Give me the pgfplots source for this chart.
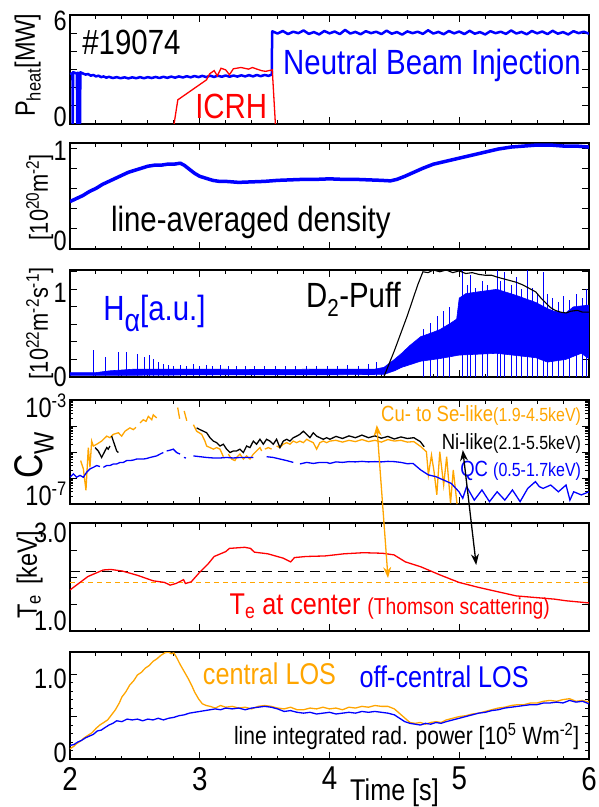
\documentclass[border=0pt]{standalone}
\usepackage{fontspec}
\setmainfont{Liberation Sans}[FakeStretch=0.84]
\usepackage{pgfplots}
\pgfplotsset{compat=1.18}
\usetikzlibrary{arrows.meta}
\definecolor{cwblue}{RGB}{0,0,255}
\definecolor{cworange}{RGB}{255,165,0}
\definecolor{cwred}{RGB}{255,0,0}
\newcommand{\fs}[1]{\fontsize{#1}{#1}\selectfont}

\pgfplotsset{panel/.style={
  scale only axis, width=519pt, anchor=north west,
  xmin=2, xmax=6, xtick={2,3,4,5,6}, minor x tick num=4,
  xticklabels={}, yticklabels={},
  tick align=inside, xtick pos=both, ytick pos=both,
  axis line style={line width=1.4pt},
  every tick/.style={black, line width=1pt},
  major tick length=7pt, minor tick length=3.5pt,
  clip mode=individual, unbounded coords=jump,
}}
\tikzset{tl/.style={inner sep=0pt, font=\fs{28}}}

\begin{document}
\begin{tikzpicture}
\useasboundingbox (-70pt,0pt) rectangle (528pt,-807pt);

% heating power
\begin{axis}[panel, at={(0pt,-15pt)}, height=109pt, ymin=0, ymax=6, ytick={0,1,2,3,4,5,6}]
\addplot[cwblue, line width=2.5pt, line join=round] coordinates {
 (2.000,2.75)(2.019,2.80)(2.021,0)(2.024,2.85)(2.053,2.78)(2.056,0)(2.059,2.82)(2.074,2.75)(2.077,0)(2.080,2.85)
 (2.10,2.78)(2.12,2.72)(2.14,2.75)(2.16,2.66)(2.18,2.70)(2.20,2.62)(2.22,2.66)(2.24,2.58)(2.26,2.62)(2.28,2.55)
 (2.30,2.60)(2.33,2.53)(2.36,2.58)(2.39,2.52)(2.42,2.57)(2.45,2.51)(2.48,2.57)(2.51,2.52)(2.54,2.58)(2.57,2.52)
 (2.60,2.58)(2.63,2.53)(2.66,2.59)(2.69,2.53)(2.72,2.60)(2.75,2.54)(2.78,2.61)(2.81,2.55)(2.84,2.62)(2.87,2.56)
 (2.90,2.63)(2.93,2.57)(2.96,2.64)(2.99,2.58)(3.02,2.65)(3.05,2.58)(3.08,2.66)(3.11,2.59)(3.14,2.66)(3.17,2.60)
 (3.20,2.67)(3.23,2.60)(3.26,2.67)(3.29,2.61)(3.32,2.68)(3.35,2.62)(3.38,2.69)(3.41,2.62)(3.44,2.70)(3.47,2.63)
 (3.50,2.70)(3.53,2.65)(3.555,2.72)(3.558,5.05)
 (3.56,5.10)(3.60,4.98)(3.64,5.12)(3.68,4.95)(3.72,5.08)(3.76,5.00)(3.80,5.15)(3.84,4.96)(3.88,5.06)(3.92,4.93)
 (3.96,5.12)(4.00,4.99)(4.04,5.09)(4.08,4.95)(4.12,5.18)(4.16,4.98)(4.20,5.07)(4.24,4.94)(4.28,5.11)(4.32,5.00)
 (4.36,5.08)(4.40,4.95)(4.44,5.14)(4.48,4.97)(4.52,5.06)(4.56,4.92)(4.60,5.10)(4.64,5.00)(4.68,5.08)(4.72,4.96)
 (4.76,5.16)(4.80,4.98)(4.84,5.07)(4.88,4.94)(4.92,5.12)(4.96,4.99)(5.00,5.09)(5.04,4.95)(5.08,5.13)(5.12,4.97)
 (5.16,5.06)(5.20,4.93)(5.24,5.11)(5.28,5.00)(5.32,5.08)(5.36,4.96)(5.40,5.15)(5.44,4.98)(5.48,5.07)(5.52,4.94)
 (5.56,5.12)(5.60,4.99)(5.64,5.09)(5.68,4.95)(5.72,5.13)(5.76,4.97)(5.80,5.06)(5.84,4.93)(5.88,5.11)(5.92,5.00)
 (5.96,5.08)(6.00,4.97)};
\addplot[cwred, line width=1.3pt] coordinates {
 (2.802,0)(2.831,1.33)(3.052,2.43)(3.076,2.76)(3.111,2.94)(3.135,2.65)(3.164,3.07)(3.200,2.98)(3.229,2.71)
 (3.259,3.04)(3.318,3.11)(3.376,3.02)(3.406,3.11)(3.441,3.02)(3.480,2.93)(3.509,2.90)(3.559,2.98)(3.583,0)};
\node[anchor=base west, inner sep=0pt] at (axis cs:2.094,3.80) {\fs{35}\#19074};
\node[anchor=base west, inner sep=0pt, text=cwblue] at (axis cs:3.642,2.70) {\fs{35}Neutral Beam Injection};
\node[anchor=base west, inner sep=0pt, text=cwred] at (axis cs:2.964,0.33) {\fs{35}ICRH};
\node[tl, anchor=north east] at ([xshift=-3pt,yshift=4pt]rel axis cs:0,1) {6};
\node[tl, anchor=south east] at ([xshift=-3pt,yshift=-3pt]rel axis cs:0,0) {0};
\node[rotate=90, anchor=base, inner sep=0pt] at ([xshift=-35pt]rel axis cs:0,0.54) {\fs{28}P\textsubscript{heat}[MW]};
\end{axis}

% density
\begin{axis}[panel, at={(0pt,-143pt)}, height=106pt, ymin=0, ymax=1.05, ytick={0,0.2,0.4,0.6,0.8,1}]
\addplot[cwblue, line width=3.5pt, line join=round] coordinates {
 (2.00,0.47)(2.05,0.50)(2.10,0.53)(2.15,0.57)(2.20,0.60)(2.25,0.64)(2.30,0.67)(2.35,0.70)(2.40,0.73)(2.45,0.76)
 (2.50,0.78)(2.55,0.80)(2.60,0.82)(2.65,0.83)(2.70,0.83)(2.75,0.84)(2.80,0.84)(2.85,0.85)(2.88,0.83)(2.92,0.79)
 (2.96,0.75)(3.00,0.72)(3.05,0.70)(3.10,0.68)(3.15,0.67)(3.20,0.67)(3.30,0.66)(3.40,0.665)(3.50,0.67)(3.60,0.68)
 (3.70,0.685)(3.80,0.69)(3.90,0.69)(4.00,0.695)(4.10,0.69)(4.20,0.69)(4.30,0.685)(4.40,0.68)(4.47,0.675)(4.52,0.69)
 (4.58,0.72)(4.65,0.76)(4.72,0.80)(4.80,0.84)(4.90,0.87)(5.00,0.90)(5.10,0.93)(5.20,0.96)(5.30,0.99)(5.40,1.01)
 (5.50,1.02)(5.60,1.03)(5.70,1.03)(5.80,1.02)(5.90,1.02)(6.00,1.01)};
\node[anchor=base west, inner sep=0pt] at (axis cs:2.315,0.17) {\fs{35}line-averaged density};
\node[tl, anchor=north east] at ([xshift=-3pt,yshift=2pt]rel axis cs:0,1) {1};
\node[tl, anchor=south east] at ([xshift=-3pt,yshift=-2pt]rel axis cs:0,0) {0};
\node[rotate=90, anchor=base, inner sep=0pt] at ([xshift=-22pt]rel axis cs:0,0.49) {\fs{26}[10\textsuperscript{20}m\textsuperscript{-2}]};
\end{axis}

% H-alpha and D2 puff
\begin{axis}[panel, at={(0pt,-270pt)}, height=107pt, ymin=0, ymax=1.22, ytick={0,0.2,0.4,0.6,0.8,1,1.2}]
\addplot[fill=cwblue, draw=cwblue, line width=0.6pt] coordinates {
 (2.00,0.05)(2.20,0.05)(2.30,0.07)(2.50,0.09)(3.00,0.09)(3.50,0.085)(4.00,0.09)(4.35,0.09)(4.42,0.11)(4.50,0.20)
 (4.556,0.27)(4.62,0.36)(4.703,0.46)(4.78,0.50)(4.85,0.54)(4.94,0.62)(4.98,0.66)(5.00,0.90)(5.05,0.95)(5.14,0.97)
 (5.29,1.00)(5.44,0.93)(5.59,0.85)(5.68,0.78)(5.73,0.75)(5.82,0.73)(5.88,0.80)(6.00,0.82)
 (6.00,0.21)(5.94,0.27)(5.82,0.20)(5.68,0.17)(5.59,0.22)(5.29,0.27)(5.00,0.25)(4.85,0.21)(4.703,0.18)(4.556,0.11)
 (4.50,0.07)(4.42,0.03)(4.00,0.025)(3.00,0.025)(2.50,0.02)(2.00,0.02)} -- cycle;
\addplot[cwblue, line width=0.6pt, ycomb] coordinates {
 (2.183,0.31)(2.271,0.23)(2.374,0.29)(2.433,0.28)(2.52,0.26)(2.575,0.23)(2.61,0.25)(2.64,0.21)(2.684,0.17)(2.72,0.15)
 (2.76,0.14)(2.80,0.13)(2.85,0.14)(2.90,0.13)(2.95,0.15)(3.00,0.13)(3.05,0.14)(3.10,0.13)(3.16,0.14)(3.22,0.13)
 (3.28,0.12)(3.35,0.13)(3.42,0.12)(3.50,0.13)(3.58,0.12)(3.66,0.13)(3.74,0.12)(3.82,0.13)(3.90,0.12)(3.98,0.13)
 (4.06,0.12)(4.14,0.14)(4.22,0.13)(4.30,0.15)(4.36,0.17)
 (4.72,0.55)(4.78,0.62)(4.83,0.70)(4.88,0.75)(4.92,0.80)(5.027,1.25)(5.06,1.05)(5.086,1.16)(5.12,1.02)(5.175,1.10)
 (5.22,1.05)(5.29,1.24)(5.32,1.10)(5.35,1.20)(5.40,1.05)(5.44,1.14)(5.48,1.00)(5.528,1.25)(5.56,1.02)(5.60,0.95)
 (5.646,1.20)(5.68,0.95)(5.72,0.90)(5.76,0.85)(5.80,0.92)(5.85,0.88)(5.90,0.95)(5.95,0.90)(5.98,1.00)};
\addplot[black, line width=1.1pt] coordinates {
 (2.00,0.005)(4.42,0.005)(4.50,0.30)(4.60,0.70)(4.68,1.05)(4.72,1.20)(4.76,1.19)(4.80,1.22)(4.85,1.20)(4.90,1.22)
 (4.95,1.19)(5.00,1.21)(5.05,1.18)(5.10,1.19)(5.15,1.17)(5.20,1.16)(5.25,1.16)(5.29,1.14)(5.34,1.12)(5.39,1.10)
 (5.44,1.08)(5.49,1.05)(5.54,1.01)(5.59,0.97)(5.63,0.90)(5.67,0.84)(5.705,0.79)(5.74,0.76)(5.78,0.74)(5.823,0.73)
 (5.86,0.75)(5.91,0.76)(5.95,0.74)(6.00,0.74)};
\node[anchor=base west, inner sep=0pt] at (axis cs:3.818,0.79) {\fs{35}D\textsubscript{2}-Puff};
\node[anchor=base west, inner sep=0pt, text=cwblue] at (axis cs:2.256,0.64) {\fs{35}H\raisebox{-0.3em}{\fs{32}α}[a.u.]};
\node[tl, anchor=east] at ([xshift=-3pt,yshift=-4pt]axis cs:2,1) {1};
\node[tl, anchor=east] at ([xshift=-3pt]rel axis cs:0,0) {0};
\node[rotate=90, anchor=base, inner sep=0pt] at ([xshift=-22pt]rel axis cs:0,0.50) {\fs{26}[10\textsuperscript{22}m\textsuperscript{-2}s\textsuperscript{-1}]};
\end{axis}

% tungsten concentration (log10 of c_W)
\begin{axis}[panel, at={(0pt,-400pt)}, height=104pt, ymin=-7, ymax=-3, ytick={-7,-6,-5,-4,-3},
  minor ytick={-6.699,-6.523,-6.398,-6.301,-6.222,-6.155,-6.097,-6.046,
   -5.699,-5.523,-5.398,-5.301,-5.222,-5.155,-5.097,-5.046,
   -4.699,-4.523,-4.398,-4.301,-4.222,-4.155,-4.097,-4.046,
   -3.699,-3.523,-3.398,-3.301,-3.222,-3.155,-3.097,-3.046}]
\addplot[cworange, line width=1.3pt] coordinates {
 (2.082,-5.33)(2.103,-5.65)(2.123,-6.47)(2.141,-4.83)(2.154,-5.59)(2.167,-4.58)(2.180,-4.77)(2.206,-4.70)(2.244,-4.58)
 (2.283,-4.39)(2.308,-4.45)(2.334,-4.32)(2.373,-4.26)(2.398,-4.39)(2.424,-4.20)(2.462,-4.07)(2.488,-4.14)(2.509,-4.05)(2.52,nan)
 (2.540,-3.88)(2.565,-3.76)(2.586,-3.82)(2.604,-3.63)(2.630,-3.76)(2.642,-3.57)(2.668,-3.69)(2.70,nan)
 (2.830,-3.29)(2.845,-3.72)(2.86,nan)
 (2.880,-3.42)(2.900,-3.80)(2.92,nan)
 (2.951,-3.95)(2.976,-4.20)(3.015,-4.32)(3.040,-4.58)(3.053,-4.77)(3.079,-4.83)(3.105,-4.89)(3.130,-4.83)(3.156,-4.89)(3.182,-5.18)(3.20,nan)
 (3.220,-5.08)(3.246,-5.27)(3.271,-5.33)(3.284,-5.21)(3.310,-5.08)(3.336,-5.27)(3.361,-5.15)(3.387,-5.27)(3.413,-5.08)(3.438,-4.96)
 (3.464,-4.83)(3.477,-4.96)(3.49,nan)
 (3.502,-4.89)(3.528,-4.83)(3.554,-4.89)(3.57,nan)
 (3.592,-4.77)(3.618,-4.83)(3.644,-4.70)(3.670,-4.64)(3.695,-4.70)(3.721,-4.58)(3.747,-4.64)(3.772,-4.58)(3.798,-4.64)(3.824,-4.51)
 (3.849,-4.58)(3.875,-4.64)(3.901,-4.89)(3.926,-4.64)(3.952,-4.58)(3.978,-4.64)(4.003,-4.58)
 (4.05,-4.55)(4.10,-4.62)(4.15,-4.55)(4.20,-4.60)(4.25,-4.52)(4.30,-4.60)(4.35,-4.55)(4.40,-4.62)(4.45,-4.52)(4.50,-4.58)
 (4.55,-4.55)(4.60,-4.62)(4.65,-4.60)(4.703,-4.79)(4.747,-4.99)(4.762,-5.88)(4.786,-5.12)(4.806,-5.76)(4.827,-6.65)(4.850,-4.99)
 (4.880,-6.27)(4.903,-5.18)(4.933,-6.97)(4.954,-5.69)(4.983,-7.0)};
\addplot[black, line width=1.3pt] coordinates {
 (2.193,-4.83)(2.218,-4.96)(2.244,-5.21)(2.257,-5.08)(2.283,-4.83)(2.295,-4.89)(2.308,-4.77)(2.315,nan)
 (2.321,-4.39)(2.334,-4.58)(2.360,-4.96)(2.373,-5.02)(2.40,nan)
 (2.976,-4.07)(3.002,-4.14)(3.028,-4.20)(3.053,-4.26)(3.079,-4.45)(3.105,-4.58)(3.130,-4.64)(3.156,-4.77)(3.182,-4.70)(3.207,-4.89)
 (3.233,-5.02)(3.259,-4.96)(3.284,-4.96)(3.310,-4.89)(3.336,-5.02)(3.361,-4.77)(3.387,-4.83)(3.413,-4.58)(3.438,-4.70)(3.464,-4.51)
 (3.490,-4.70)(3.515,-4.51)(3.541,-4.58)(3.567,-4.70)(3.592,-4.51)(3.618,-4.83)(3.644,-4.58)(3.670,-4.51)(3.695,-4.58)(3.721,-4.45)
 (3.747,-4.39)(3.772,-4.32)(3.798,-4.20)(3.824,-4.32)(3.849,-4.45)(3.875,-4.26)(3.901,-4.39)(3.926,-4.45)(3.952,-4.51)(3.978,-4.45)
 (4.003,-4.51)(4.05,-4.40)(4.10,-4.48)(4.15,-4.38)(4.20,-4.45)(4.25,-4.35)(4.30,-4.45)(4.35,-4.38)(4.40,-4.47)(4.45,-4.40)
 (4.50,-4.50)(4.55,-4.42)(4.60,-4.48)(4.65,-4.45)(4.70,-4.60)(4.73,-4.80)};
\addplot[cwblue, line width=1.3pt] coordinates {
 (2.000,-5.97)(2.026,-5.84)(2.051,-5.97)(2.077,-5.90)(2.103,-5.97)(2.128,-5.78)(2.154,-5.65)(2.180,-5.59)(2.206,-5.52)(2.231,-5.56)(2.244,nan)
 (2.257,-5.59)(2.283,-5.52)(2.308,-5.52)(2.334,-5.46)(2.360,-5.46)(2.386,-5.40)(2.411,-5.40)(2.437,-5.33)(2.462,-5.33)(2.488,-5.31)
 (2.514,-5.27)(2.540,-5.27)(2.565,-5.27)(2.591,-5.25)(2.617,-5.21)(2.642,-5.18)(2.668,-5.15)(2.694,-5.08)(2.719,-5.02)(2.73,nan)
 (2.745,-4.96)(2.771,-4.93)(2.796,-4.89)(2.822,-5.02)(2.848,-5.08)(2.86,nan)
 (2.878,-5.21)(2.894,-5.23)(2.92,nan)
 (2.951,-5.15)(3.002,-5.18)(3.053,-5.21)(3.105,-5.23)(3.156,-5.23)(3.207,-5.21)(3.259,-5.23)(3.310,-5.21)(3.361,-5.21)(3.413,-5.21)(3.45,nan)
 (3.515,-5.18)(3.567,-5.21)(3.618,-5.27)(3.670,-5.33)(3.721,-5.40)(3.74,nan)
 (3.772,-5.46)(3.824,-5.40)(3.875,-5.44)(3.926,-5.40)(3.978,-5.40)(4.003,-5.44)
 (4.05,-5.38)(4.10,-5.40)(4.15,-5.37)(4.20,-5.38)(4.25,-5.36)(4.30,-5.38)(4.35,-5.37)(4.40,-5.38)(4.45,-5.36)(4.50,-5.37)
 (4.55,-5.40)(4.60,-5.45)(4.644,-5.44)(4.703,-5.69)(4.762,-5.88)(4.821,-5.95)(4.880,-6.08)(4.939,-6.21)(4.998,-6.53)(5.027,-6.78)
 (5.057,-6.33)(5.116,-6.85)(5.175,-6.46)(5.233,-6.91)(5.292,-6.53)(5.351,-6.85)(5.410,-6.46)(5.469,-6.91)(5.528,-6.40)(5.587,-6.14)
 (5.617,-6.33)(5.646,-6.40)(5.705,-6.27)(5.764,-6.53)(5.823,-6.27)(5.853,-6.85)(5.882,-6.53)(5.941,-6.65)(6.000,-6.53)};
\node[anchor=base east, inner sep=0pt, text=cworange] at (axis cs:5.94,-3.83) {{\fs{22}Cu- to Se-like}{\fs{19}(1.9-4.5keV)}};
\node[anchor=base east, inner sep=0pt] at (axis cs:5.94,-4.92) {{\fs{22}Ni-like}{\fs{19}(2.1-5.5keV)}};
\node[anchor=base east, inner sep=0pt, text=cwblue] at (axis cs:5.94,-5.95) {{\fs{22}QC }{\fs{19}(0.5-1.7keV)}};
\node[tl, anchor=base east] at ([xshift=-3pt,yshift=-17pt]rel axis cs:0,1) {10\textsuperscript{-3}};
\node[tl, anchor=base east] at ([xshift=-3pt,yshift=-1pt]rel axis cs:0,0) {10\textsuperscript{-7}};
\node[rotate=90, anchor=base, inner sep=0pt] at ([xshift=-27pt]rel axis cs:0,0.47) {\fs{40}C\textsubscript{W}};
\end{axis}

% central electron temperature
\begin{axis}[panel, at={(0pt,-523pt)}, height=108pt, ymin=1, ymax=3, ytick={1,1.5,2,2.5,3}]
\addplot[black, line width=1.3pt, dash pattern=on 10pt off 6pt] coordinates {(2,2.10)(6,2.10)};
\addplot[cworange, line width=1.3pt, dash pattern=on 5pt off 4pt] coordinates {(2,1.90)(6,1.90)};
\addplot[cwred, line width=1.3pt] coordinates {
 (2.000,1.76)(2.050,1.85)(2.139,2.01)(2.256,2.13)(2.315,2.14)(2.404,2.11)(2.522,2.03)(2.640,1.93)(2.728,1.90)(2.772,1.85)
 (2.817,1.88)(2.875,1.95)(2.890,1.88)(2.934,1.91)(2.993,2.07)(3.067,2.25)(3.111,2.38)(3.200,2.47)(3.229,2.53)(3.347,2.55)
 (3.391,2.53)(3.421,2.46)(3.524,2.43)(3.642,2.35)(3.701,2.28)(3.730,2.36)(3.819,2.38)(3.966,2.39)(4.113,2.43)(4.261,2.45)
 (4.408,2.44)(4.497,2.41)(4.585,2.28)(4.703,2.19)(4.850,2.04)(4.998,1.90)(5.145,1.81)(5.292,1.73)(5.440,1.65)(5.587,1.62)
 (5.735,1.59)(5.823,1.56)(6.000,1.52)};
\node[anchor=base west, inner sep=0pt, text=cwred] at (axis cs:3.229,1.30) {{\fs{30}T\textsubscript{e} at center }{\fs{23}(Thomson scattering)}};
\node[tl, anchor=north east] at ([xshift=-3pt]rel axis cs:0,1) {3.0};
\node[tl, anchor=south east] at ([xshift=-3pt]rel axis cs:0,0) {1.0};
\node[rotate=90, anchor=base, inner sep=0pt] at ([xshift=-33pt]rel axis cs:0,0.52) {\fs{28}T\textsubscript{e}\hspace{10pt}[keV]};
\end{axis}

% radiated power
\begin{axis}[panel, at={(0pt,-652pt)}, height=107pt, ymin=0, ymax=1.26, ytick={0,0.5,1}, minor y tick num=4,
  xticklabels={2,3,4,5,6}, xticklabel style={font=\fs{33}, inner sep=0pt, yshift=-8pt}]
\addplot[cworange, line width=1.3pt] coordinates {
 (2.00,0.12)(2.03,0.15)(2.05,0.18)(2.08,0.21)(2.11,0.25)(2.14,0.28)(2.17,0.31)(2.20,0.36)(2.23,0.40)(2.26,0.43)
 (2.29,0.46)(2.32,0.52)(2.35,0.58)(2.38,0.66)(2.40,0.73)(2.43,0.79)(2.46,0.87)(2.49,0.92)(2.52,0.99)(2.55,1.02)
 (2.58,1.07)(2.61,1.10)(2.64,1.15)(2.67,1.18)(2.70,1.22)(2.73,1.25)(2.76,1.26)(2.78,1.24)(2.80,1.25)(2.82,1.20)
 (2.85,1.11)(2.88,1.03)(2.91,0.95)(2.94,0.86)(2.96,0.79)(2.99,0.71)(3.02,0.65)(3.05,0.63)(3.08,0.62)(3.12,0.60)
 (3.16,0.63)(3.20,0.61)(3.25,0.62)(3.30,0.60)(3.35,0.61)(3.40,0.59)(3.45,0.62)(3.50,0.63)(3.55,0.62)(3.60,0.60)
 (3.65,0.59)(3.70,0.61)(3.75,0.58)(3.80,0.58)(3.85,0.60)(3.90,0.59)(3.95,0.61)(4.00,0.59)(4.05,0.60)(4.10,0.58)
 (4.15,0.61)(4.20,0.60)(4.25,0.62)(4.30,0.61)(4.35,0.63)(4.40,0.62)(4.45,0.62)(4.50,0.59)(4.53,0.55)(4.56,0.51)
 (4.59,0.47)(4.62,0.43)(4.66,0.42)(4.70,0.43)(4.74,0.41)(4.78,0.43)(4.82,0.44)(4.86,0.43)(4.90,0.46)(4.95,0.48)
 (5.00,0.50)(5.05,0.51)(5.10,0.53)(5.15,0.54)(5.20,0.56)(5.25,0.58)(5.30,0.60)(5.35,0.61)(5.40,0.63)(5.45,0.64)
 (5.50,0.64)(5.55,0.66)(5.60,0.66)(5.65,0.68)(5.70,0.69)(5.75,0.68)(5.80,0.70)(5.85,0.71)(5.90,0.68)(5.95,0.69)(6.00,0.67)};
\addplot[cwblue, line width=1.3pt] coordinates {
 (2.00,0.16)(2.03,0.17)(2.06,0.20)(2.09,0.22)(2.12,0.25)(2.15,0.27)(2.18,0.29)(2.21,0.33)(2.24,0.34)(2.27,0.37)
 (2.30,0.40)(2.33,0.42)(2.36,0.45)(2.40,0.44)(2.44,0.47)(2.48,0.46)(2.52,0.47)(2.56,0.45)(2.60,0.47)(2.64,0.46)
 (2.68,0.48)(2.72,0.46)(2.76,0.48)(2.80,0.49)(2.84,0.51)(2.88,0.52)(2.92,0.54)(2.96,0.55)(3.00,0.56)(3.04,0.57)
 (3.08,0.58)(3.12,0.59)(3.16,0.58)(3.20,0.60)(3.25,0.59)(3.30,0.60)(3.35,0.58)(3.40,0.60)(3.45,0.61)(3.50,0.62)
 (3.55,0.61)(3.60,0.59)(3.65,0.56)(3.70,0.57)(3.75,0.55)(3.80,0.54)(3.85,0.55)(3.90,0.53)(3.95,0.54)(4.00,0.55)
 (4.05,0.53)(4.10,0.54)(4.15,0.55)(4.20,0.54)(4.25,0.56)(4.30,0.55)(4.35,0.56)(4.40,0.55)(4.45,0.54)(4.50,0.52)
 (4.54,0.48)(4.58,0.44)(4.62,0.42)(4.66,0.41)(4.70,0.40)(4.74,0.42)(4.78,0.41)(4.82,0.43)(4.86,0.42)(4.90,0.44)
 (4.95,0.46)(5.00,0.48)(5.05,0.50)(5.10,0.52)(5.15,0.54)(5.20,0.55)(5.25,0.57)(5.30,0.58)(5.35,0.60)(5.40,0.61)
 (5.45,0.62)(5.50,0.63)(5.55,0.64)(5.60,0.64)(5.65,0.66)(5.70,0.66)(5.75,0.67)(5.80,0.66)(5.85,0.69)(5.90,0.67)
 (5.95,0.68)(6.00,0.65)};
\node[anchor=base west, inner sep=0pt, text=cworange] at (axis cs:3.023,0.88) {\fs{30}central LOS};
\node[anchor=base west, inner sep=0pt, text=cwblue] at (axis cs:4.231,0.845) {\fs{30}off-central LOS};
\node[anchor=base east, inner sep=0pt] at (axis cs:5.926,0.167) {\fs{25}line integrated rad. power [10\textsuperscript{5} Wm\textsuperscript{-2}]};
\node[tl, anchor=east] at ([xshift=-3pt,yshift=-5pt]axis cs:2,1) {1.0};
\node[tl, anchor=east] at ([xshift=-3pt,yshift=6pt]rel axis cs:0,0) {0};
\end{axis}

\node[anchor=base west, inner sep=0pt] at (280pt,-800pt) {\fs{30}Time [s]};
\draw[cworange, line width=1.3pt, {Stealth[length=11pt,width=8pt]}-{Stealth[length=11pt,width=8pt]}] (306.8pt,-425pt) -- (318pt,-578pt);
\draw[black, line width=1.3pt, {Stealth[length=11pt,width=8pt]}-{Stealth[length=11pt,width=8pt]}] (392.8pt,-450pt) -- (406.2pt,-565pt);
\end{tikzpicture}
\end{document}
